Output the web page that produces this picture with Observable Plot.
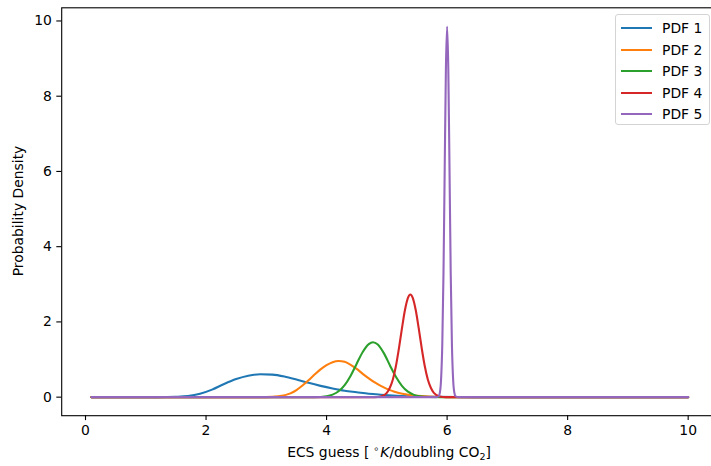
<!DOCTYPE html>
<html>
<head>
<meta charset="utf-8">
<script src="https://cdn.jsdelivr.net/npm/d3@7"></script>
<script src="https://cdn.jsdelivr.net/npm/@observablehq/plot@0.6"></script>
<style>
html, body { margin: 0; padding: 0; background: #fff; overflow: hidden; }
#wrap { position: relative; width: 711px; height: 466px; font-family: "DejaVu Sans", sans-serif; color: #000; }
#wrap svg { overflow: hidden; display: block; }
.legend { position: absolute; left: 615px; top: 14px; width: 95px; height: 111px; border: 1px solid #d4d4d4; border-radius: 3px; background: rgba(255,255,255,0.8); box-sizing: border-box; }
.item { position: absolute; left: 0; height: 20px; width: 100%; }
.item .sw { position: absolute; left: 5px; top: 9px; width: 31px; height: 2px; }
.item .tx { position: absolute; left: 46px; top: 0; font-size: 13.9px; line-height: 20px; white-space: nowrap; }
.xlabel { position: absolute; left: 389px; top: 452px; transform: translate(-50%, -50%); font-size: 13.9px; white-space: nowrap; }
.ylabel { position: absolute; left: 18px; top: 211px; transform: translate(-50%, -50%) rotate(-90deg); font-size: 13.9px; white-space: nowrap; }
sup.deg { font-size: 9.5px; vertical-align: 5px; margin-left: 4px; margin-right: 1px; }
sub.s { font-size: 9.5px; vertical-align: -3px; }
</style>
</head>
<body>
<div id="wrap"></div>
<script>
// ---- data ----
const seriesNames = ["PDF 1", "PDF 2", "PDF 3", "PDF 4", "PDF 5"];
const seriesColors = ["#1f77b4", "#ff7f0e", "#2ca02c", "#d62728", "#9467bd"];
const xTicks = [0, 2, 4, 6, 8, 10];
const yTicks = [0, 2, 4, 6, 8, 10];

const pdf1X = [0.1, 1.2, 1.5, 1.7, 1.9, 2.1, 2.3, 2.5, 2.7, 2.9, 3.1, 3.3, 3.5, 3.7, 3.9, 4.1, 4.3, 4.5, 4.7, 4.9, 5.1, 5.4, 5.8, 6.2, 6.6, 10];
const pdf1Y = [0, 0, 0.01, 0.03, 0.09, 0.2, 0.35, 0.48, 0.57, 0.61, 0.6, 0.55, 0.47, 0.38, 0.3, 0.23, 0.17, 0.13, 0.09, 0.065, 0.045, 0.025, 0.01, 0.003, 0, 0];

const pdf2X = [0.1, 3.0, 3.2, 3.4, 3.5, 3.6, 3.7, 3.8, 3.9, 4.0, 4.1, 4.2, 4.3, 4.4, 4.5, 4.6, 4.7, 4.8, 4.9, 5.0, 5.1, 5.2, 5.35, 5.5, 5.7, 5.9, 6.1, 10];
const pdf2Y = [0, 0, 0.02, 0.1, 0.19, 0.31, 0.45, 0.6, 0.74, 0.85, 0.93, 0.96, 0.94, 0.86, 0.75, 0.62, 0.5, 0.39, 0.3, 0.22, 0.16, 0.11, 0.065, 0.035, 0.015, 0.005, 0, 0];

const pdf3X = [0.1, 3.8, 4.0, 4.1, 4.2, 4.3, 4.4, 4.5, 4.6, 4.7, 4.77, 4.85, 4.95, 5.05, 5.15, 5.25, 5.35, 5.45, 5.55, 5.7, 5.9, 10];
const pdf3Y = [0, 0, 0.025, 0.067, 0.157, 0.32, 0.57, 0.89, 1.2, 1.41, 1.46, 1.4, 1.17, 0.85, 0.54, 0.3, 0.145, 0.061, 0.023, 0.004, 0, 0];

const pdf4X = [0.1, 4.8, 4.9, 5.0, 5.05, 5.1, 5.15, 5.2, 5.25, 5.3, 5.35, 5.39, 5.43, 5.48, 5.53, 5.58, 5.63, 5.68, 5.73, 5.78, 5.88, 5.98, 10];
const pdf4Y = [0, 0.002, 0.018, 0.115, 0.25, 0.47, 0.82, 1.29, 1.82, 2.31, 2.64, 2.73, 2.64, 2.31, 1.82, 1.29, 0.82, 0.47, 0.25, 0.115, 0.018, 0.002, 0];

const pdf5X = [0.1, 5.82, 5.86, 5.88, 5.9, 5.92, 5.94, 5.96, 5.98, 6.0, 6.02, 6.04, 6.06, 6.08, 6.1, 6.12, 6.14, 6.18, 10];
const pdf5Y = [0, 0, 0.025, 0.12, 0.47, 1.4, 3.29, 6.05, 8.72, 9.85, 8.72, 6.05, 3.29, 1.4, 0.47, 0.12, 0.025, 0, 0];

const seriesX = [pdf1X, pdf2X, pdf3X, pdf4X, pdf5X];
const seriesY = [pdf1Y, pdf2Y, pdf3Y, pdf4Y, pdf5Y];

// ---- build table ----
const rows = [];
seriesNames.forEach((name, i) => {
  seriesX[i].forEach((x, j) => rows.push({series: name, x, y: seriesY[i][j]}));
});

const chart = Plot.plot({
  width: 711,
  height: 466,
  marginLeft: 61.2,
  marginRight: -6.5,
  marginTop: 7.3,
  marginBottom: 50.8,
  style: {fontFamily: "DejaVu Sans", fontSize: "13.9px", color: "black", background: "white", overflow: "hidden"},
  x: {domain: [-0.395, 10.495]},
  y: {domain: [-0.493, 10.35]},
  color: {domain: seriesNames, range: seriesColors},
  marks: [
    Plot.line(rows, {x: "x", y: "y", z: "series", stroke: "series", strokeWidth: 2.1, curve: "monotone-x"}),
    Plot.frame({stroke: "black", strokeWidth: 1.1}),
    Plot.axisX({ticks: xTicks, tickSize: 4.9, tickPadding: 4.9, label: null, strokeWidth: 1.1, tickFormat: d => String(d)}),
    Plot.axisY({ticks: yTicks, tickSize: 4.9, tickPadding: 4.9, label: null, strokeWidth: 1.1, tickFormat: d => String(d)})
  ]
});

const wrap = document.getElementById("wrap");
wrap.appendChild(chart);

// axis labels
const xl = document.createElement("div");
xl.className = "xlabel";
xl.innerHTML = 'ECS guess [<sup class="deg">∘</sup><i>K</i>/doubling CO<sub class="s">2</sub>]';
wrap.appendChild(xl);
const yl = document.createElement("div");
yl.className = "ylabel";
yl.textContent = "Probability Density";
wrap.appendChild(yl);

// legend
const lg = document.createElement("div");
lg.className = "legend";
seriesNames.forEach((name, i) => {
  const it = document.createElement("div");
  it.className = "item";
  it.style.top = (3.3 + i * 21.5) + "px";
  it.innerHTML = `<div class="sw" style="background:${seriesColors[i]}"></div><div class="tx">${name}</div>`;
  lg.appendChild(it);
});
wrap.appendChild(lg);
</script>
</body>
</html>
